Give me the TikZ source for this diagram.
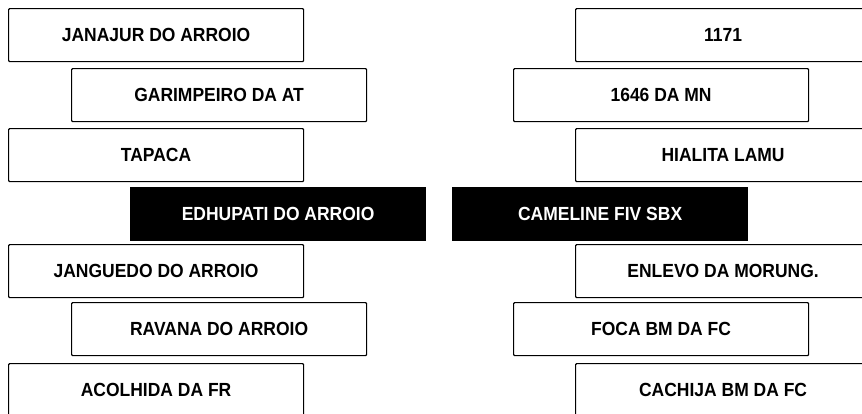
\documentclass[tikz,border=0pt]{standalone}
\usepackage{fontspec}
\setmainfont[FakeStretch=0.92]{Liberation Sans}

\tikzset{
  namebox/.style={draw,line width=1.2pt,rounded corners=1pt,anchor=north west,
    minimum width=295pt,minimum height=53pt,inner sep=0pt,
    font=\fontsize{19}{22}\selectfont\bfseries},
  darkbox/.style={namebox,fill=black,text=white,rounded corners=0pt}
}

\begin{document}
\begin{tikzpicture}[x=1pt,y=-1pt]
   \useasboundingbox (0,0) rectangle (862,413);
   \clip (0,0) rectangle (862,413);

   \node[namebox] (jan) at (8,8) {JANAJUR DO ARROIO};
   \node[namebox] (gar) at (71,68) {GARIMPEIRO DA AT};
   \node[namebox] (tap) at (8,128) {TAPACA};
   \node[darkbox] (edh) at (130,187) {EDHUPATI DO ARROIO};
   \node[namebox] (jang) at (8,244) {JANGUEDO DO ARROIO};
   \node[namebox] (rav) at (71,302) {RAVANA DO ARROIO};
   \node[namebox] (aco) at (8,363) {ACOLHIDA DA FR};

   \node[namebox] (n1171) at (575,8) {1171};
   \node[namebox] (n1646) at (513,68) {1646 DA MN};
   \node[namebox] (hia) at (575,128) {HIALITA LAMU};
   \node[darkbox] (cam) at (452,187) {CAMELINE FIV SBX};
   \node[namebox] (enl) at (575,244) {ENLEVO DA MORUNG.};
   \node[namebox] (foca) at (513,302) {FOCA BM DA FC};
   \node[namebox] (cach) at (575,363) {CACHIJA BM DA FC};
\end{tikzpicture}
\end{document}
